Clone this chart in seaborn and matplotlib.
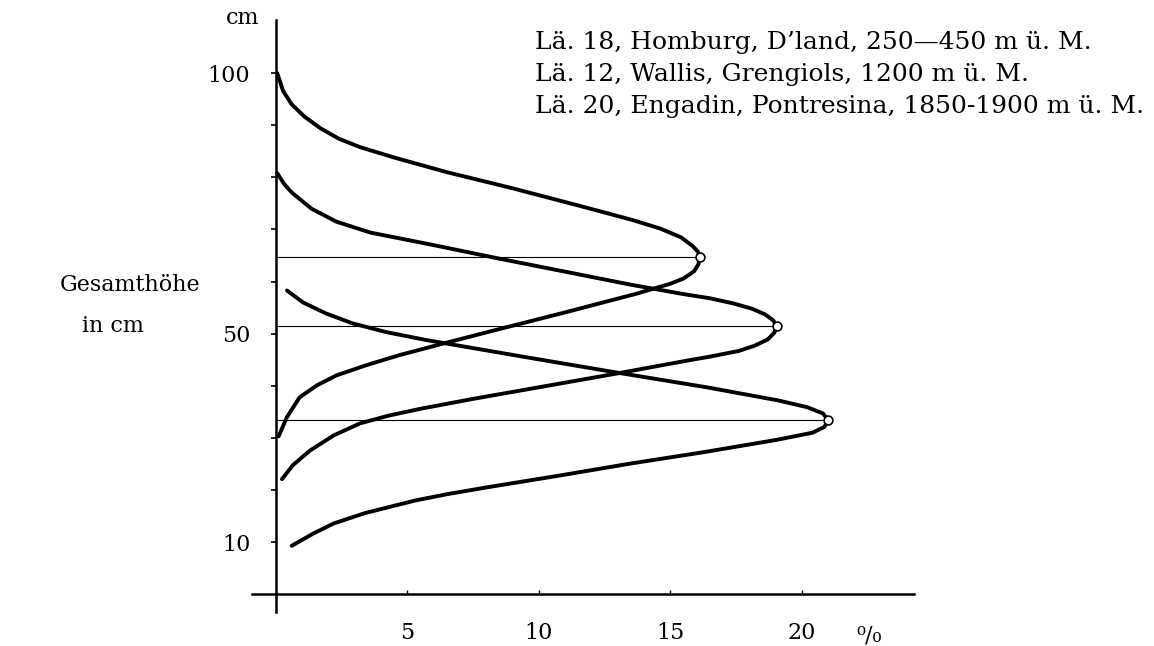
import matplotlib
matplotlib.use("Agg")
import matplotlib.pyplot as plt
import seaborn as sns
import pandas as pd

# curve values: share in % (x) against total height in cm (y),
# traced from the upper end over the peak down to the lower end
homburg_pct = [0.05, 0.27, 0.6, 1.1, 1.7, 2.4, 3.2, 4.5, 6.5, 9.0, 11.5, 13.5, 14.6, 15.4, 15.85,
               16.05, 16.12,
               16.06, 15.9, 15.5, 15.0, 13.65, 11.0, 8.5, 6.5, 4.7, 3.46, 2.3, 1.56, 0.9, 0.42, 0.1]
homburg_cm = [100.0, 96.6, 94.0, 91.6, 89.4, 87.4, 85.8, 83.8, 81.0, 77.9, 74.6, 71.9, 70.2, 68.5, 66.8,
              65.7, 64.7,
              63.3, 62.0, 60.6, 59.6, 57.6, 54.1, 50.9, 48.3, 45.9, 44.0, 42.0, 40.1, 37.8, 34.0, 30.3]

wallis_pct = [0.05, 0.3, 0.6, 1.35, 2.3, 3.6, 6.0, 8.5, 11.0, 13.5, 15.5, 16.5, 17.4, 18.1, 18.6,
              18.9, 19.05,
              18.95, 18.7, 18.2, 17.6, 16.5, 15.7, 13.0, 10.2, 7.5, 5.5, 4.3, 3.2, 2.2, 1.3, 0.65, 0.23]
wallis_cm = [80.8, 78.8, 77.1, 74.0, 71.5, 69.4, 67.0, 64.4, 61.9, 59.4, 57.6, 56.8, 55.8, 54.8, 53.7,
             52.6, 51.4,
             50.2, 48.9, 47.7, 46.7, 45.6, 44.9, 42.4, 39.9, 37.5, 35.6, 34.3, 32.8, 30.5, 27.6, 24.8, 22.1]

engadin_pct = [0.42, 1.03, 1.9, 2.9, 4.2, 5.7, 9.5, 12.9, 16.4, 19.1, 20.2, 20.8, 21.0,
               20.85, 20.4, 19.0, 16.3, 13.5, 10.8, 8.0, 6.5, 5.3, 3.4, 2.2, 1.4, 0.6]
engadin_cm = [58.3, 56.0, 53.9, 52.0, 50.3, 48.8, 45.5, 42.6, 39.7, 37.2, 35.9, 34.7, 33.4,
              32.1, 31.0, 29.6, 27.3, 25.1, 22.8, 20.5, 19.2, 18.0, 15.6, 13.6, 11.6, 9.3]

peak_pct = [16.12, 19.05, 21.0]
peak_cm = [64.7, 51.4, 33.4]

labels = ["Lä. 18, Homburg, D’land, 250—450 m ü. M.",
          "Lä. 12, Wallis, Grengiols, 1200 m ü. M.",
          "Lä. 20, Engadin, Pontresina, 1850-1900 m ü. M."]

y_ticks = [10, 20, 30, 40, 50, 60, 70, 80, 90, 100]
y_ticklabels = ["10", "", "", "", "50", "", "", "", "", "100"]
x_ticks = [5, 10, 15, 20]

sns.set_style("white")
plt.rcParams["font.family"] = ["DejaVu Serif", "DejaVu Sans"]
plt.rcParams["text.color"] = "black"
plt.rcParams["xtick.color"] = "black"
plt.rcParams["ytick.color"] = "black"

fig = plt.figure(figsize=(11.54, 6.46), dpi=100)
ax = fig.add_axes([252 / 1154, 1 - 612 / 646, 662 / 1154, 592 / 646])

curves = [(homburg_pct, homburg_cm), (wallis_pct, wallis_cm), (engadin_pct, engadin_cm)]
for pct, cm in curves:
    df = pd.DataFrame({"pct": pct, "cm": cm})
    sns.lineplot(data=df, x="pct", y="cm", sort=False, estimator=None,
                 color="black", linewidth=2.8, ax=ax)
for line in ax.get_lines():
    line.set_solid_joinstyle("round")
    line.set_solid_capstyle("round")

# thin guide lines from the axis to each peak
for px, py in zip(peak_pct, peak_cm):
    ax.plot([0, px], [py, py], color="black", linewidth=0.8, zorder=1)

sns.scatterplot(x=peak_pct, y=peak_cm, ax=ax, s=40, color="white",
                edgecolor="black", linewidth=1.2, zorder=5)

ax.set_xlim(-0.91, 24.26)
ax.set_ylim(-3.4, 110.2)
ax.spines["left"].set_position(("data", 0))
ax.spines["bottom"].set_position(("data", 0))
ax.spines["right"].set_visible(False)
ax.spines["top"].set_visible(False)
for s in ["left", "bottom"]:
    ax.spines[s].set_linewidth(1.8)
    ax.spines[s].set_color("black")

ax.set_yticks(y_ticks)
ax.set_yticklabels(y_ticklabels, fontsize=16)
ax.set_xticks(x_ticks)
ax.set_xticklabels([str(t) for t in x_ticks], fontsize=16)
ax.tick_params(axis="y", direction="out", length=3.5, width=1.2, pad=15, left=True)
ax.tick_params(axis="x", direction="in", length=3, width=1.0, pad=20, bottom=True)
ax.set_xlabel("")
ax.set_ylabel("")
ax.patch.set_alpha(0)

fig.text(243 / 1154, 1 - 18 / 646, "cm", fontsize=16, ha="center", va="center")
fig.text(869 / 1154, 1 - 636 / 646, "⁰/₀", fontsize=16, ha="center", va="center")
fig.text(60 / 1154, 1 - 285 / 646, "Gesamthöhe", fontsize=16, ha="left", va="center")
fig.text(82 / 1154, 1 - 326 / 646, "in cm", fontsize=16, ha="left", va="center")

for i, lab in enumerate(labels):
    fig.text(535 / 1154, 1 - (43 + 32 * i) / 646, lab, fontsize=18, ha="left", va="center")

fig.savefig("out.png", dpi=100)
